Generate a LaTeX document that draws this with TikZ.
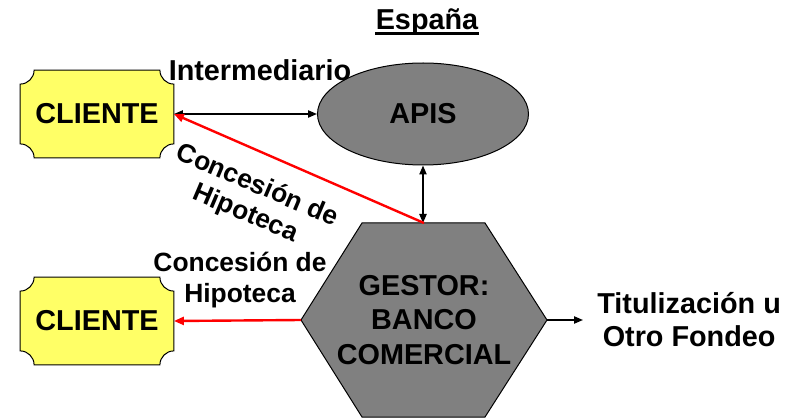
\documentclass[tikz,border=0pt]{standalone}
\usepackage{fontspec}
\setmainfont{Liberation Sans}
\usepackage{tikz}
\usetikzlibrary{arrows.meta,backgrounds,shapes.geometric,positioning}

\definecolor{plaqueyellow}{RGB}{255,255,102}
\definecolor{boxgray}{RGB}{128,128,128}

% concave-corner box drawn behind a node
\newcommand{\plaque}[1]{%
  \draw[plaquebox] ([xshift=7pt]#1.north west) -- ([xshift=-7pt]#1.north east)
    arc[start angle=180,end angle=270,radius=7pt] -- ([yshift=7pt]#1.south east)
    arc[start angle=90,end angle=180,radius=7pt] -- ([xshift=7pt]#1.south west)
    arc[start angle=0,end angle=90,radius=7pt] -- ([yshift=-7pt]#1.north west)
    arc[start angle=270,end angle=360,radius=7pt] -- cycle;}

\tikzset{
  txt/.style={font=\bfseries\fontsize{14.4}{17}\selectfont, align=center, inner sep=0pt},
  smalltxt/.style={font=\bfseries\fontsize{13.2}{15.2}\selectfont, align=center, inner sep=0pt},
  plaquebox/.style={draw=black, line width=0.5pt, fill=plaqueyellow},
  client/.style={txt, minimum width=76.5pt, minimum height=43.5pt},
  biarrow/.style={{Triangle[length=4.5pt,width=3.6pt]}-{Triangle[length=4.5pt,width=3.6pt]}, line width=0.8pt},
  onearrow/.style={-{Triangle[length=4.5pt,width=3.6pt]}, line width=0.8pt},
  redarrow/.style={-{Triangle[length=5pt,width=4pt]}, red, line width=1.2pt}
}

\begin{document}
\begin{tikzpicture}[x=0.5pt, y=0.5pt, node distance=103.5pt]
    \useasboundingbox (0,0) rectangle (798,418);

    \node [client] (cliente1) at (97,304) {CLIENTE};
    \node [client] (cliente2) [below of=cliente1] {CLIENTE};
    \node [ellipse, draw=black, line width=0.5pt, fill=boxgray, minimum width=105.5pt,
           minimum height=51pt, txt] (apis) at (423,304) {APIS};

    % hexagon of the bank
    \coordinate (gleft) at (301,98);
    \coordinate (gtop) at (424,195);
    \coordinate (gright) at (547,98);
    \filldraw [fill=boxgray, draw=black, line width=0.5pt]
      (gleft) -- (362,195) -- (485,195) -- (gright) -- (485,1) -- (362,1) -- cycle;
    \node [txt, font=\bfseries\fontsize{14.4}{17.3}\selectfont] (gestor) at (424,98) {GESTOR:\\BANCO\\COMERCIAL};

    \begin{scope}[on background layer]
      \plaque{cliente1}
      \plaque{cliente2}
    \end{scope}

    \node [txt, anchor=base] (espana) at (427,388) {España};
    \draw [line width=1.1pt] ([yshift=-1.8pt]espana.base west) -- ([yshift=-1.8pt]espana.base east);
    \node [txt, anchor=base] (interm) at (260,337) {Intermediario};
    \node [txt, font=\bfseries\fontsize{14.4}{16.5}\selectfont, anchor=west] (fondeo) at (597,98) {Titulización u\\Otro Fondeo};
    \node [smalltxt] (concesion1) at (251,218) [rotate=-23] {Concesión de\\Hipoteca};
    \node [smalltxt] (concesion2) at (240,138) {Concesión de\\Hipoteca};

    \draw [biarrow] (cliente1.east) -- (apis.west);
    \draw [biarrow] (apis.south) -- (apis.south |- gtop);
    \draw [redarrow] (gtop) -- (cliente1.east);
    \draw [redarrow] (gleft) -- (cliente2.east);
    \draw [onearrow] (gright) -- ([xshift=-7pt]fondeo.west);
\end{tikzpicture}
\end{document}
